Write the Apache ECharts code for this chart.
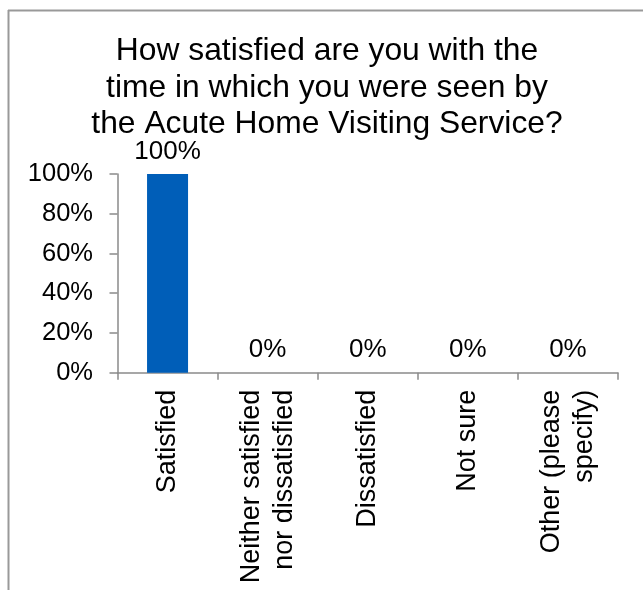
<!DOCTYPE html>
<html>
<head>
<meta charset="utf-8">
<script src="https://cdn.jsdelivr.net/npm/echarts@6/dist/echarts.min.js"></script>
<style>
  html, body { margin: 0; padding: 0; background: #fff; }
  #chart { width: 643px; height: 590px; }
</style>
</head>
<body>
<div id="chart"></div>
<script>
const titleText = 'How satisfied are you with the\ntime in which you were seen by\nthe Acute Home Visiting Service?';
const categories = [
  'Satisfied',
  'Neither satisfied\nnor dissatisfied',
  'Dissatisfied',
  'Not sure',
  'Other (please\nspecify)'
];
const percentValues = [100, 0, 0, 0, 0];
const yTicks = [0, 20, 40, 60, 80, 100];

const FONT = '"Liberation Sans", Arial, sans-serif';
const axisGray = '#8a8a8a';

const chart = echarts.init(document.getElementById('chart'), null, { renderer: 'canvas' });

chart.setOption({
  animation: false,
  backgroundColor: '#ffffff',
  title: {
    text: titleText,
    left: 327,
    top: 33,
    textAlign: 'center',
    padding: 0,
    textStyle: {
      fontFamily: FONT,
      fontSize: 31.8,
      fontWeight: 'normal',
      color: '#000',
      lineHeight: 36.5
    }
  },
  grid: { left: 117.5, top: 174, right: 25, bottom: 217.3, containLabel: false },
  xAxis: {
    type: 'category',
    data: categories,
    axisLine: { lineStyle: { color: axisGray, width: 1.5 } },
    axisTick: { show: true, alignWithLabel: false, length: 7, lineStyle: { color: axisGray, width: 1.5 } },
    axisLabel: {
      rotate: 90,
      margin: 17,
      interval: 0,
      fontFamily: FONT,
      fontSize: 27,
      color: '#000',
      lineHeight: 33
    },
    splitLine: { show: false }
  },
  yAxis: {
    type: 'value',
    min: yTicks[0],
    max: yTicks[yTicks.length - 1],
    interval: yTicks[1] - yTicks[0],
    axisLine: { show: true, lineStyle: { color: axisGray, width: 1.5 } },
    axisTick: { show: true, length: 8, lineStyle: { color: axisGray, width: 1.5 } },
    axisLabel: {
      formatter: '{value}%',
      margin: 24.5,
      fontFamily: FONT,
      fontSize: 25.5,
      color: '#000'
    },
    splitLine: { show: false }
  },
  series: [{
    type: 'bar',
    data: percentValues,
    barWidth: 41,
    itemStyle: { color: '#005EB8' },
    label: {
      show: true,
      position: 'top',
      distance: 9.5,
      formatter: '{c}%',
      fontFamily: FONT,
      fontSize: 26,
      color: '#000'
    }
  }],
  graphic: [
    { type: 'line', silent: true, shape: { x1: 8, y1: 10.5, x2: 643, y2: 10.5 }, style: { stroke: '#999', lineWidth: 2 } },
    { type: 'line', silent: true, shape: { x1: 8.5, y1: 10, x2: 8.5, y2: 590 }, style: { stroke: '#999', lineWidth: 2 } }
  ]
});
</script>
</body>
</html>
